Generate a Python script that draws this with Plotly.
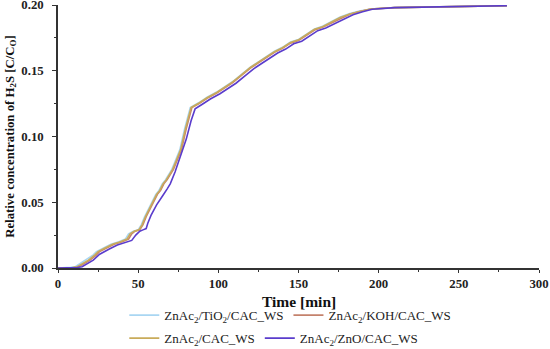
import plotly.graph_objects as go

# ---- data ----
t_koh = [0, 8, 10, 13, 16, 20, 24, 26, 30, 35, 40, 44, 46, 48, 51, 53, 55, 57, 59.5, 62, 64, 66, 68, 70,
         72, 74, 77, 80, 83.5, 88, 93, 99, 104, 109, 115, 120, 125, 130, 135, 140, 145, 150, 155, 160,
         165, 170, 176, 182, 188, 195, 210, 230, 250, 280]
y_koh = [0, 0, 0.0004, 0.001, 0.003, 0.006, 0.010, 0.0125, 0.015, 0.018, 0.020, 0.022, 0.026, 0.028, 0.029,
         0.033, 0.039, 0.044, 0.050, 0.056, 0.059, 0.064, 0.067, 0.071, 0.075, 0.081, 0.090, 0.106, 0.122,
         0.125, 0.129, 0.133, 0.137, 0.141, 0.147, 0.152, 0.156, 0.160, 0.164, 0.167, 0.171, 0.173, 0.177,
         0.181, 0.183, 0.186, 0.190, 0.193, 0.195, 0.197, 0.198, 0.1985, 0.199, 0.1995]

t_cac = [0, 7, 9, 12, 15, 19, 23, 25, 29, 34, 39, 43, 45, 47.5, 50.5, 52.5, 54.5, 56.5, 59, 61.5, 63.5, 65.5,
         67.5, 69.5, 71.5, 73.5, 76.5, 79.5, 83, 88, 93, 99, 104, 109, 115, 120, 125, 130, 135, 140, 145,
         150, 155, 160, 165, 170, 176, 182, 188, 195, 210, 230, 250, 280]
y_cac = [0, 0, 0.0004, 0.001, 0.003, 0.006, 0.010, 0.0125, 0.015, 0.018, 0.020, 0.022, 0.026, 0.028, 0.029,
         0.033, 0.039, 0.044, 0.050, 0.056, 0.059, 0.064, 0.067, 0.071, 0.075, 0.081, 0.090, 0.106, 0.122,
         0.1255, 0.1295, 0.1335, 0.1375, 0.1415, 0.1475, 0.1525, 0.1565, 0.1605, 0.1645, 0.1675, 0.1715,
         0.1735, 0.1775, 0.1815, 0.1835, 0.1865, 0.1905, 0.1932, 0.1952, 0.197, 0.198, 0.1985, 0.199, 0.1995]

t_tio = [0, 6, 8, 11, 14, 18, 22, 24, 28, 33, 38, 42, 44, 47, 50, 52, 54, 56, 58.5, 61, 63, 65,
         67, 69, 71, 73, 76, 79, 82.5, 88, 93, 99, 104, 109, 115, 120, 125, 130, 135, 140, 145,
         150, 155, 160, 165, 170, 176, 182, 188, 195, 210, 230, 250, 280]
y_tio = [0, 0, 0.0005, 0.0012, 0.0035, 0.0065, 0.010, 0.0125, 0.015, 0.018, 0.020, 0.022, 0.026, 0.028, 0.029,
         0.033, 0.039, 0.044, 0.050, 0.056, 0.059, 0.064, 0.067, 0.071, 0.075, 0.081, 0.090, 0.106, 0.122,
         0.1258, 0.1298, 0.1338, 0.1378, 0.1418, 0.1478, 0.1528, 0.1568, 0.1608, 0.1648, 0.1678, 0.1718,
         0.1738, 0.1778, 0.1818, 0.1838, 0.1868, 0.1908, 0.1935, 0.1955, 0.197, 0.198, 0.1985, 0.199, 0.1995]

t_zno = [0, 10, 12, 15, 18, 22, 26, 28, 32, 37, 42, 46, 48.5, 51, 53, 55, 56, 58, 61.5, 64, 65.6, 68, 70,
         73, 75, 77, 80, 83, 85.5, 90, 95, 101, 106, 111, 117, 122, 127, 132, 137, 142, 147, 152, 157,
         162, 167, 172, 178, 184, 190, 196, 210, 230, 250, 280]
y_zno = [0, 0, 0.0004, 0.001, 0.003, 0.006, 0.0105, 0.012, 0.0145, 0.0175, 0.0195, 0.021, 0.025, 0.028, 0.029,
         0.030, 0.034, 0.040, 0.048, 0.052, 0.0555, 0.060, 0.064, 0.073, 0.080, 0.088, 0.098, 0.112, 0.121,
         0.1245, 0.1285, 0.1325, 0.1365, 0.1405, 0.1465, 0.1515, 0.1555, 0.1595, 0.1635, 0.1665, 0.1705,
         0.1725, 0.1765, 0.1805, 0.1825, 0.1855, 0.1895, 0.1925, 0.1948, 0.1968, 0.198, 0.1985, 0.199, 0.1995]

names = ["ZnAc<sub>2</sub>/TiO<sub>2</sub>/CAC_WS", "ZnAc<sub>2</sub>/KOH/CAC_WS",
         "ZnAc<sub>2</sub>/CAC_WS", "ZnAc<sub>2</sub>/ZnO/CAC_WS"]
colors = ["#a9d6f2", "#c4826c", "#c9ab5a", "#5a3ccc"]

x_ticks = [0, 50, 100, 150, 200, 250, 300]
y_ticks = [0.00, 0.05, 0.10, 0.15, 0.20]
x_title = "Time [min]"
y_title = "Relative concentration of H<sub>2</sub>S [C/C<sub>O</sub>]"

FONT = "Liberation Serif, Times New Roman, serif"

fig = go.Figure()
series = [(t_tio, y_tio, "legend"), (t_koh, y_koh, "legend"), (t_cac, y_cac, "legend2"), (t_zno, y_zno, "legend2")]
for (tx, ty, lg), nm, c in zip(series, names, colors):
    fig.add_trace(go.Scatter(x=tx, y=ty, mode="lines", name=nm, legend=lg,
                             line=dict(color=c, width=1.6)))

axis_common = dict(showline=True, linecolor="#333333", linewidth=1.5, ticks="outside",
                   tickwidth=1.3, tickcolor="#333333", showgrid=False, zeroline=False,
                   ticklabeloverflow="allow", automargin=True,
                   tickfont=dict(family=FONT, size=12.8, color="#222222", weight="bold"),
                   minor=dict(ticks="outside", ticklen=2.5, tickwidth=1, tickcolor="#333333"))

fig.update_xaxes(range=[0, 300], tickvals=x_ticks, ticktext=[str(v) for v in x_ticks],
                 minor_tickvals=[25, 75, 125, 175, 225, 275], ticklen=3,
                 **axis_common)
fig.update_yaxes(range=[0, 0.2], tickvals=y_ticks, ticktext=["%.2f" % v for v in y_ticks],
                 minor_tickvals=[0.025, 0.075, 0.125, 0.175], ticklen=4,
                 ticklabelstandoff=6,
                 title=dict(text=y_title,
                            font=dict(family=FONT, size=12.8, color="#111111", weight="bold"), standoff=4),
                 **axis_common)

fig.add_annotation(text=x_title, xref="paper", yref="paper", x=0.5, y=-0.129,
                   xanchor="center", yanchor="middle", showarrow=False,
                   font=dict(family=FONT, size=15.5, color="#111111", weight="bold"))

leg_common = dict(orientation="h", xref="container", yref="container", xanchor="left", yanchor="middle",
                  bgcolor="rgba(0,0,0,0)", font=dict(family=FONT, size=13, color="#222222"),
                  itemwidth=30, tracegroupgap=0)
fig.update_layout(
    width=550, height=349,
    margin=dict(l=58, r=11, t=5, b=81, autoexpand=False),
    paper_bgcolor="white", plot_bgcolor="white",
    legend=dict(x=0.226, y=0.097, **leg_common),
    legend2=dict(x=0.226, y=0.031, **leg_common),
)

fig.write_html("out.html", config={"displayModeBar": False},
               post_script="document.body.style.margin='0';document.body.style.padding='0';")
